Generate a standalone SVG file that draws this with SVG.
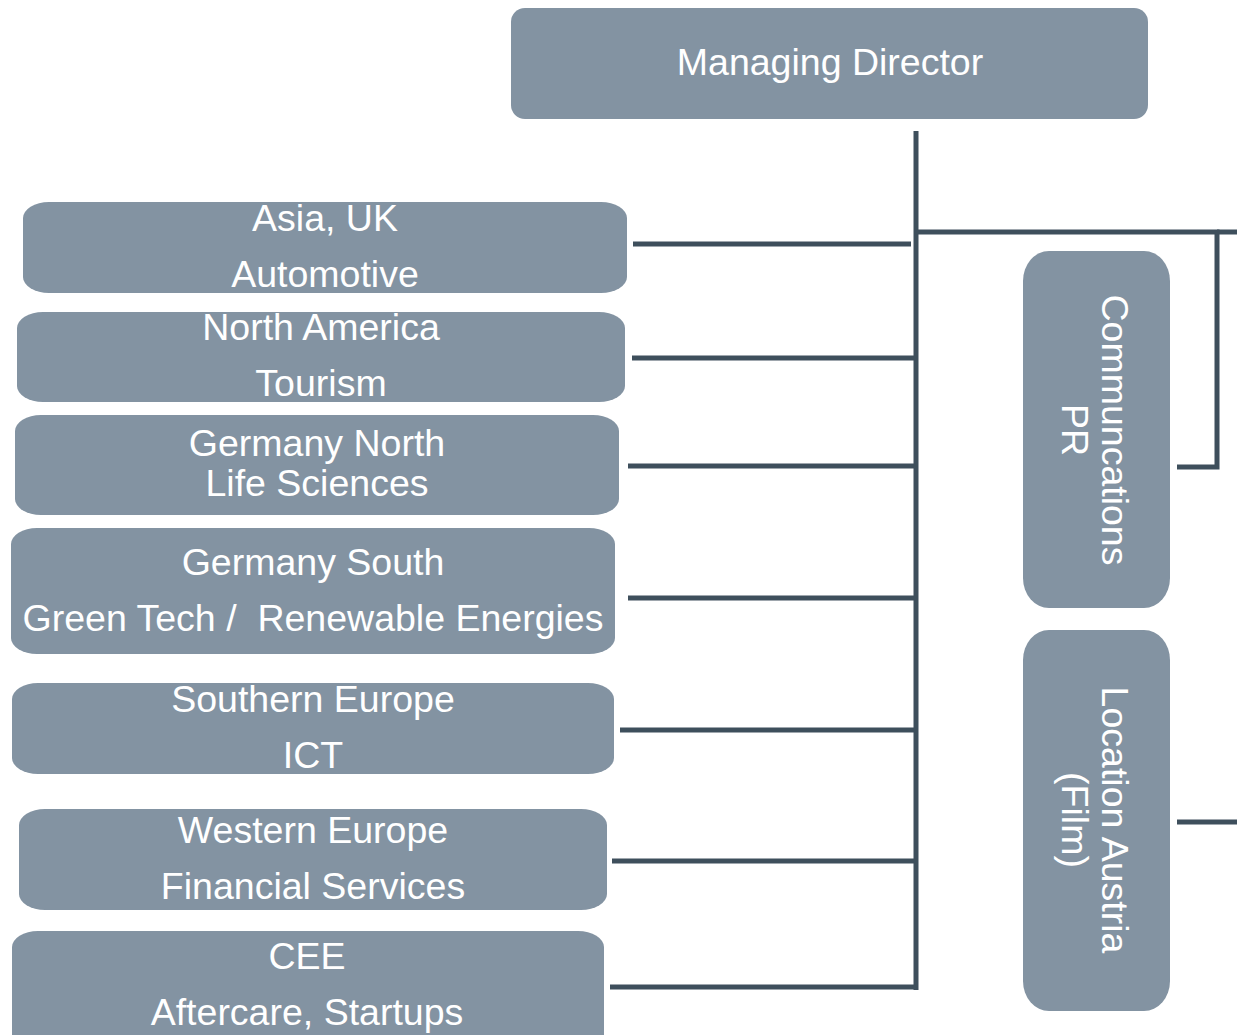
<svg xmlns="http://www.w3.org/2000/svg" width="1237" height="1035" viewBox="0 0 1237 1035">
<style>
.box{fill:#8393a2;}
.t{font-family:"Liberation Sans",Arial,sans-serif;font-size:37.5px;fill:#ffffff;text-anchor:middle;}
.c{stroke:#3e4f5c;stroke-width:5;fill:none;}
</style>
<rect width="1237" height="1035" fill="#ffffff"/>
<g id="connectors">
<line class="c" x1="916" y1="131" x2="916" y2="990"/>
<polyline class="c" points="916,232 1217,232 1217,467 1177,467"/>
<line class="c" x1="1217" y1="232" x2="1237" y2="232"/>
<line class="c" x1="633" y1="244" x2="911" y2="244"/>
<line class="c" x1="632" y1="358" x2="916" y2="358"/>
<line class="c" x1="628" y1="466" x2="916" y2="466"/>
<line class="c" x1="628" y1="598" x2="916" y2="598"/>
<line class="c" x1="620" y1="730" x2="916" y2="730"/>
<line class="c" x1="612" y1="861" x2="916" y2="861"/>
<line class="c" x1="610" y1="987" x2="918" y2="987"/>
<line class="c" x1="1177" y1="822" x2="1237" y2="822"/>
</g>
<g id="managing-director">
<rect class="box" x="511" y="8" width="637" height="111" rx="14" ry="14"/>
<text class="t" x="830" y="75">Managing Director</text>
</g>
<g id="asia-uk">
<rect class="box" x="23" y="202" width="604" height="91" rx="26" ry="16"/>
<text class="t" x="325" y="231">Asia, UK</text>
<text class="t" x="325" y="287">Automotive</text>
</g>
<g id="north-america">
<rect class="box" x="17" y="312" width="608" height="90" rx="26" ry="16"/>
<text class="t" x="321" y="340">North America</text>
<text class="t" x="321" y="396">Tourism</text>
</g>
<g id="germany-north">
<rect class="box" x="15" y="415" width="604" height="100" rx="26" ry="16"/>
<text class="t" x="317" y="456">Germany North</text>
<text class="t" x="317" y="496">Life Sciences</text>
</g>
<g id="germany-south">
<rect class="box" x="11" y="528" width="604" height="126" rx="26" ry="16"/>
<text class="t" x="313" y="575">Germany South</text>
<text class="t" x="313" y="631" xml:space="preserve">Green Tech /  Renewable Energies</text>
</g>
<g id="southern-europe">
<rect class="box" x="12" y="683" width="602" height="91" rx="26" ry="16"/>
<text class="t" x="313" y="712">Southern Europe</text>
<text class="t" x="313" y="768">ICT</text>
</g>
<g id="western-europe">
<rect class="box" x="19" y="809" width="588" height="101" rx="26" ry="16"/>
<text class="t" x="313" y="843">Western Europe</text>
<text class="t" x="313" y="899">Financial Services</text>
</g>
<g id="cee">
<rect class="box" x="12" y="931" width="592" height="120" rx="26" ry="16"/>
<text class="t" x="307" y="969">CEE</text>
<text class="t" x="307" y="1025">Aftercare, Startups</text>
</g>
<g id="communications">
<rect class="box" x="1023" y="251" width="147" height="357" rx="26" ry="30"/>
<text class="t" transform="translate(1102,430) rotate(90)" x="0" y="0">Communcations</text>
<text class="t" transform="translate(1062,430) rotate(90)" x="0" y="0">PR</text>
</g>
<g id="location-austria">
<rect class="box" x="1023" y="630" width="147" height="381" rx="26" ry="30"/>
<text class="t" transform="translate(1102,820) rotate(90)" x="0" y="0">Location Austria</text>
<text class="t" transform="translate(1062,820) rotate(90)" x="0" y="0">(Film)</text>
</g>
</svg>
